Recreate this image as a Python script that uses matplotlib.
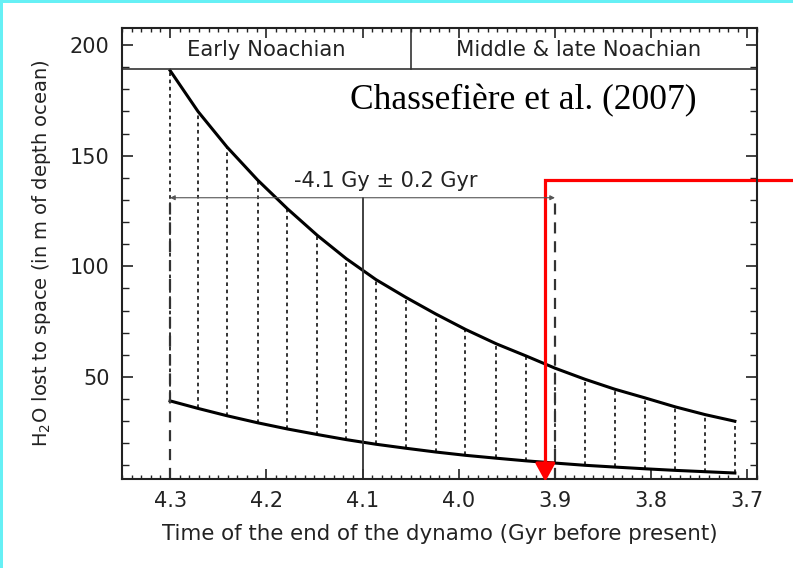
import numpy as np
import matplotlib
matplotlib.use("Agg")
import matplotlib.pyplot as plt
import matplotlib.patches as mpatches
from matplotlib.ticker import MultipleLocator

# values
dynamo_end = [4.300, 4.271, 4.241, 4.209, 4.178, 4.147, 4.117, 4.086, 4.055, 4.024,
              3.993, 3.961, 3.930, 3.900, 3.869, 3.838, 3.806, 3.775, 3.744, 3.713]
h2o_upper = [188.5, 170.0, 154.0, 139.0, 126.0, 114.0, 103.5, 94.0, 86.0, 78.5,
             71.5, 65.0, 59.5, 54.0, 49.0, 44.5, 40.5, 36.5, 33.0, 30.0]
h2o_lower = [39.2, 35.8, 32.5, 29.3, 26.5, 24.0, 21.7, 19.6, 17.8, 16.1,
             14.6, 13.3, 12.1, 11.1, 10.1, 9.3, 8.5, 7.8, 7.2, 6.6]

era_bounds = [4.35, 4.05, 3.69]
era_labels = ["Early Noachian", "Middle & late Noachian"]
era_label_x = [4.2, 3.875]
era_floor = 189.2

end_estimate = 4.1
end_range = [4.3, 3.9]
range_level = 131.0
range_text = "-4.1 Gy \u00b1 0.2 Gyr"

red_x = 3.910
red_top = 139.0
red_right = 3.654
red_tip = 2.7

source_text = "Chassefi\u00e8re et al. (2007)"

x_ticks = [4.3, 4.2, 4.1, 4.0, 3.9, 3.8, 3.7]
y_ticks = [50, 100, 150, 200]

SANS = "DejaVu Sans"
INK = "#222222"

fig = plt.figure(figsize=(7.93, 5.68), dpi=100)
ax = fig.add_axes([0.1538, 0.1567, 0.9546 - 0.1538, 0.9507 - 0.1567])

ax.set_xlim(era_bounds[0], era_bounds[-1])
ax.set_ylim(3.9, 207.7)

# dotted verticals between the two curves
for x, lo, hi in zip(dynamo_end, h2o_lower, h2o_upper):
    ax.plot([x, x], [lo, hi], color=INK, lw=1.3, ls=(0, (2, 2)))

ax.plot(dynamo_end, h2o_upper, color="black", lw=2.2)
ax.plot(dynamo_end, h2o_lower, color="black", lw=2.2)

# dashed bounds and the central estimate
ymin = ax.get_ylim()[0]
for x in end_range:
    ax.plot([x, x], [ymin, range_level], color="#333333", lw=1.6, ls=(0, (5, 3.5)))
ax.plot([end_estimate, end_estimate], [ymin, range_level], color="#333333", lw=1.3)

ax.annotate("", xy=(end_range[0], range_level), xytext=(end_range[1], range_level),
            arrowprops=dict(arrowstyle="<|-|>", color="#555555", lw=0.8,
                            mutation_scale=7, shrinkA=0, shrinkB=0))
ax.text(4.076, 138.7, range_text, ha="center", va="center", fontsize=15,
        family=SANS, color=INK)

# era band at the top
ax.axhline(era_floor, color="#333333", lw=1.2)
ax.plot([era_bounds[1], era_bounds[1]], [era_floor, 207.7], color="#333333", lw=1.2)
for xc, lab in zip(era_label_x, era_labels):
    ax.text(xc, 197.7, lab, ha="center", va="center", fontsize=15.2,
            family=SANS, color=INK)

ax.text(3.933, 174.9, source_text, ha="center", va="center", fontsize=25.5,
        family="Liberation Serif", color="black")

# ticks
ax.set_xticks(x_ticks)
ax.set_xticklabels([f"{t:.1f}" for t in x_ticks])
ax.set_yticks(y_ticks)
ax.xaxis.set_minor_locator(MultipleLocator(0.01))
ax.yaxis.set_minor_locator(MultipleLocator(10))
ax.tick_params(axis="both", which="both", direction="in", top=True, right=True,
               colors=INK, labelcolor=INK)
ax.tick_params(axis="x", which="major", length=7, width=1.2, pad=9, labelsize=15)
ax.tick_params(axis="x", which="minor", length=3, width=1.0)
ax.tick_params(axis="y", which="major", length=8, width=1.2, pad=9, labelsize=15)
ax.tick_params(axis="y", which="minor", length=5, width=1.0)
for lab in ax.get_xticklabels() + ax.get_yticklabels():
    lab.set_family(SANS)
for sp in ax.spines.values():
    sp.set_linewidth(1.5)
    sp.set_color(INK)

ax.set_xlabel("Time of the end of the dynamo (Gyr before present)", fontsize=15.4,
              family=SANS, color=INK, labelpad=9)
ax.set_ylabel("H$_2$O lost to space (in m of depth ocean)", fontsize=14,
              family=SANS, color=INK, labelpad=12)

# red pointer
ax.plot([red_right, red_x, red_x], [red_top, red_top, 10], color="#ff0000",
        lw=2.3, clip_on=False, solid_joinstyle="miter")
ax.annotate("", xy=(red_x, red_tip), xytext=(red_x, 12),
            arrowprops=dict(arrowstyle="-|>,head_length=0.55,head_width=0.3",
                            color="#ff0000", lw=2.3, mutation_scale=20,
                            shrinkA=0, shrinkB=0), annotation_clip=False)

# cyan frame strips
fig.add_artist(mpatches.Rectangle((0, 0), 3 / 793, 1, transform=fig.transFigure,
                                  color="#66f0f5", lw=0))
fig.add_artist(mpatches.Rectangle((0, 1 - 3 / 568), 1, 3 / 568, transform=fig.transFigure,
                                  color="#66f0f5", lw=0))

fig.savefig("out.png", dpi=100)
